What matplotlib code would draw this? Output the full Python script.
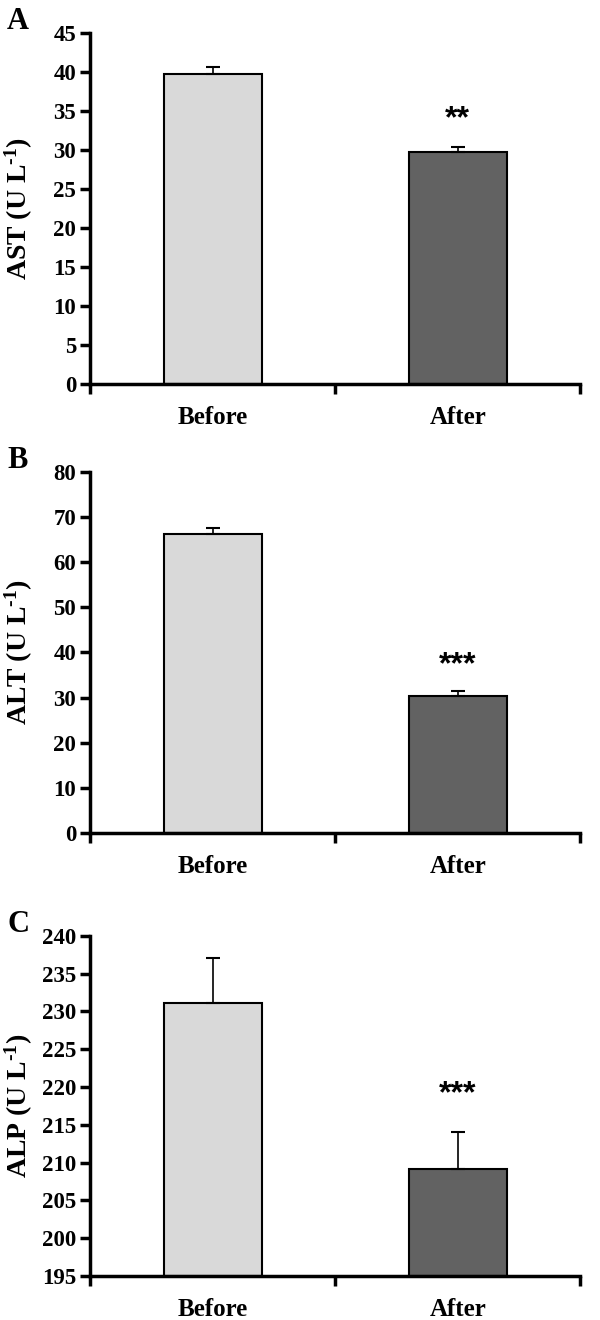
import matplotlib.pyplot as plt
import numpy as np

plt.rcParams['font.family'] = 'Liberation Serif'
plt.rcParams['font.weight'] = 'bold'
plt.rcParams['mathtext.fontset'] = 'custom'
plt.rcParams['mathtext.rm'] = 'Liberation Serif:bold'
plt.rcParams['mathtext.bf'] = 'Liberation Serif:bold'
plt.rcParams['mathtext.default'] = 'bf'

groups = ['Before', 'After']
panels = ['A', 'B', 'C']
ylabels = ['AST (U L$^{\\text{-1}}$)', 'ALT (U L$^{\\text{-1}}$)', 'ALP (U L$^{\\text{-1}}$)']

ast_mean = [39.8, 29.7]
ast_err = [0.8, 0.7]
alt_mean = [66.3, 30.4]
alt_err = [1.4, 1.0]
alp_mean = [231.1, 209.1]
alp_err = [6.0, 4.9]

means = [ast_mean, alt_mean, alp_mean]
errs = [ast_err, alt_err, alp_err]
stars = ['**', '***', '***']
ylims = [(0, 45), (0, 80), (195, 240)]
ysteps = [5, 10, 5]
star_off = [3.6, 5.8, 5.0]

# axes boxes in figure fractions [left, bottom, width, height]
boxes = [[0.15, 0.709, 0.817, 0.266],
         [0.15, 0.369, 0.817, 0.2734],
         [0.15, 0.0333, 0.817, 0.2577]]
cols = ['#d9d9d9', '#626262']

fig = plt.figure(figsize=(6, 13.2), dpi=100)

for i in range(3):
    ax = fig.add_axes(boxes[i])
    lo, hi = ylims[i]
    x = np.array([0.5, 1.5])
    ax.bar(x, np.array(means[i]) - lo, bottom=lo, width=0.4, color=cols,
           edgecolor='black', linewidth=1.5, zorder=2)
    ax.errorbar(x, means[i], yerr=[[0, 0], errs[i]], fmt='none', ecolor='black',
                elinewidth=1.2, capsize=5, capthick=1.5, zorder=3)
    ax.text(1.5, means[i][1] + errs[i][1] + star_off[i], stars[i], ha='center',
            va='center', fontsize=23, fontweight='bold', family='Liberation Sans')
    ax.set_xlim(0, 2)
    ax.set_ylim(lo, hi)
    ax.set_yticks(np.arange(lo, hi + 0.1, ysteps[i]))
    ax.set_xticks([0, 1, 2])
    ax.set_xticklabels([])
    ax.set_xticks(x, minor=True)
    ax.set_xticklabels(groups, minor=True, fontsize=18, fontweight='bold')
    ax.tick_params(axis='x', which='minor', length=0, pad=16)
    ax.tick_params(axis='x', which='major', direction='out', length=7, width=2.5)
    ax.tick_params(axis='y', direction='out', length=7, width=2.5, labelsize=16.5, pad=3)
    for lab in ax.get_yticklabels():
        lab.set_fontweight('bold')
    for s in ['top', 'right']:
        ax.spines[s].set_visible(False)
    for s in ['left', 'bottom']:
        ax.spines[s].set_linewidth(2.5)
    fig.text(0.032, boxes[i][1] + boxes[i][3] / 2, ylabels[i], fontsize=20,
             fontweight='bold', rotation=90, ha='center', va='center')
    fig.text(0.012, boxes[i][1] + boxes[i][3] + 0.009, panels[i], fontsize=22,
             fontweight='bold', va='center', ha='left')

fig.savefig('out.png', dpi=100)
